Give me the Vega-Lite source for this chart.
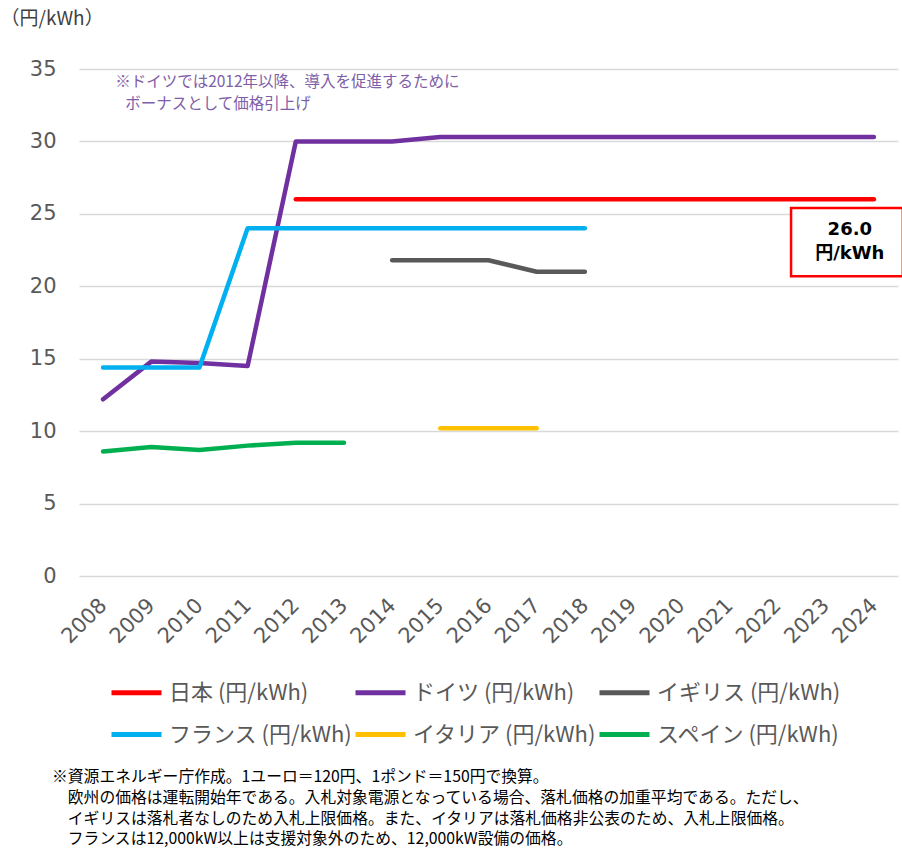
{
  "$schema": "https://vega.github.io/schema/vega-lite/v6.json",
  "width": 819,
  "height": 507,
  "autosize": {"type": "none"},
  "padding": {"left": 79, "top": 69, "right": 4, "bottom": 273},
  "background": "white",
  "config": {
    "view": {"stroke": null},
    "font": "Noto Sans CJK JP"
  },
  "title": {
    "text": [
      "※資源エネルギー庁作成。1ユーロ＝120円、1ポンド＝150円で換算。",
      "\u200b\u3000欧州の価格は運転開始年である。入札対象電源となっている場合、落札価格の加重平均である。ただし、",
      "\u200b\u3000イギリスは落札者なしのため入札上限価格。また、イタリアは落札価格非公表のため、入札上限価格。",
      "\u200b\u3000フランスは12,000kW以上は支援対象外のため、12,000kW設備の価格。"
    ],
    "orient": "bottom",
    "anchor": "start",
    "frame": "group",
    "font": "Noto Sans CJK JP",
    "fontSize": 15.8,
    "fontWeight": "normal",
    "color": "#000000",
    "lineHeight": 20.8,
    "dx": -27,
    "offset": 24
  },
  "datasets": {
    "prices": [
      {"series": "日本 (円/kWh)", "year": 2012, "value": 26.0},
      {"series": "日本 (円/kWh)", "year": 2013, "value": 26.0},
      {"series": "日本 (円/kWh)", "year": 2014, "value": 26.0},
      {"series": "日本 (円/kWh)", "year": 2015, "value": 26.0},
      {"series": "日本 (円/kWh)", "year": 2016, "value": 26.0},
      {"series": "日本 (円/kWh)", "year": 2017, "value": 26.0},
      {"series": "日本 (円/kWh)", "year": 2018, "value": 26.0},
      {"series": "日本 (円/kWh)", "year": 2019, "value": 26.0},
      {"series": "日本 (円/kWh)", "year": 2020, "value": 26.0},
      {"series": "日本 (円/kWh)", "year": 2021, "value": 26.0},
      {"series": "日本 (円/kWh)", "year": 2022, "value": 26.0},
      {"series": "日本 (円/kWh)", "year": 2023, "value": 26.0},
      {"series": "日本 (円/kWh)", "year": 2024, "value": 26.0},
      {"series": "ドイツ (円/kWh)", "year": 2008, "value": 12.2},
      {"series": "ドイツ (円/kWh)", "year": 2009, "value": 14.8},
      {"series": "ドイツ (円/kWh)", "year": 2010, "value": 14.7},
      {"series": "ドイツ (円/kWh)", "year": 2011, "value": 14.5},
      {"series": "ドイツ (円/kWh)", "year": 2012, "value": 30.0},
      {"series": "ドイツ (円/kWh)", "year": 2013, "value": 30.0},
      {"series": "ドイツ (円/kWh)", "year": 2014, "value": 30.0},
      {"series": "ドイツ (円/kWh)", "year": 2015, "value": 30.3},
      {"series": "ドイツ (円/kWh)", "year": 2016, "value": 30.3},
      {"series": "ドイツ (円/kWh)", "year": 2017, "value": 30.3},
      {"series": "ドイツ (円/kWh)", "year": 2018, "value": 30.3},
      {"series": "ドイツ (円/kWh)", "year": 2019, "value": 30.3},
      {"series": "ドイツ (円/kWh)", "year": 2020, "value": 30.3},
      {"series": "ドイツ (円/kWh)", "year": 2021, "value": 30.3},
      {"series": "ドイツ (円/kWh)", "year": 2022, "value": 30.3},
      {"series": "ドイツ (円/kWh)", "year": 2023, "value": 30.3},
      {"series": "ドイツ (円/kWh)", "year": 2024, "value": 30.3},
      {"series": "イギリス (円/kWh)", "year": 2014, "value": 21.8},
      {"series": "イギリス (円/kWh)", "year": 2015, "value": 21.8},
      {"series": "イギリス (円/kWh)", "year": 2016, "value": 21.8},
      {"series": "イギリス (円/kWh)", "year": 2017, "value": 21.0},
      {"series": "イギリス (円/kWh)", "year": 2018, "value": 21.0},
      {"series": "フランス (円/kWh)", "year": 2008, "value": 14.4},
      {"series": "フランス (円/kWh)", "year": 2009, "value": 14.4},
      {"series": "フランス (円/kWh)", "year": 2010, "value": 14.4},
      {"series": "フランス (円/kWh)", "year": 2011, "value": 24.0},
      {"series": "フランス (円/kWh)", "year": 2012, "value": 24.0},
      {"series": "フランス (円/kWh)", "year": 2013, "value": 24.0},
      {"series": "フランス (円/kWh)", "year": 2014, "value": 24.0},
      {"series": "フランス (円/kWh)", "year": 2015, "value": 24.0},
      {"series": "フランス (円/kWh)", "year": 2016, "value": 24.0},
      {"series": "フランス (円/kWh)", "year": 2017, "value": 24.0},
      {"series": "フランス (円/kWh)", "year": 2018, "value": 24.0},
      {"series": "イタリア (円/kWh)", "year": 2015, "value": 10.2},
      {"series": "イタリア (円/kWh)", "year": 2016, "value": 10.2},
      {"series": "イタリア (円/kWh)", "year": 2017, "value": 10.2},
      {"series": "スペイン (円/kWh)", "year": 2008, "value": 8.6},
      {"series": "スペイン (円/kWh)", "year": 2009, "value": 8.9},
      {"series": "スペイン (円/kWh)", "year": 2010, "value": 8.7},
      {"series": "スペイン (円/kWh)", "year": 2011, "value": 9.0},
      {"series": "スペイン (円/kWh)", "year": 2012, "value": 9.2},
      {"series": "スペイン (円/kWh)", "year": 2013, "value": 9.2}
    ],
    "notes": [
      {"year": 2008.25, "value": 34.1, "note": "※ドイツでは2012年以降、導入を促進するために"},
      {"year": 2008.46, "value": 32.6, "note": "ボーナスとして価格引上げ"}
    ],
    "callout": [
      {"x0": 2022.28, "x1": 2024.6, "y0": 20.7, "y1": 25.4}
    ],
    "japan_latest": [
      {"series": "日本 (円/kWh)", "year": 2024, "value": 26.0}
    ]
  },
  "layer": [
    {
      "data": {"name": "prices"},
      "mark": {"type": "line", "strokeWidth": 4.5, "strokeCap": "round", "strokeJoin": "round"},
      "encoding": {
        "x": {
          "field": "year",
          "type": "quantitative",
          "title": null,
          "scale": {"domain": [2007.5, 2024.5], "nice": false, "zero": false},
          "axis": {
            "values": [2008, 2009, 2010, 2011, 2012, 2013, 2014, 2015, 2016, 2017, 2018, 2019, 2020, 2021, 2022, 2023, 2024],
            "format": "d",
            "grid": false,
            "domain": false,
            "ticks": false,
            "labelAngle": -45,
            "labelAlign": "right",
            "labelBaseline": "middle",
            "labelPadding": 26,
            "labelFont": "DejaVu Sans",
            "labelFontSize": 21,
            "labelColor": "#595959",
            "labelOverlap": false,
            "labelBound": false,
            "labelFlush": false
          }
        },
        "y": {
          "field": "value",
          "type": "quantitative",
          "title": "（円/kWh）",
          "scale": {"domain": [0, 35], "nice": false},
          "axis": {
            "values": [0, 5, 10, 15, 20, 25, 30, 35],
            "grid": true,
            "gridColor": "#D9D9D9",
            "gridWidth": 1.5,
            "domain": false,
            "ticks": false,
            "labelPadding": 23,
            "labelFont": "DejaVu Sans",
            "labelFontSize": 21,
            "labelColor": "#595959",
            "titleAngle": 0,
            "titleAlign": "left",
            "titleBaseline": "middle",
            "titleX": -79,
            "titleY": -51,
            "titleFont": "Noto Sans CJK JP",
            "titleFontSize": 19,
            "titleFontWeight": "normal",
            "titleColor": "#404040"
          }
        },
        "color": {
          "field": "series",
          "type": "nominal",
          "sort": null,
          "scale": {
            "domain": ["日本 (円/kWh)", "ドイツ (円/kWh)", "イギリス (円/kWh)", "フランス (円/kWh)", "イタリア (円/kWh)", "スペイン (円/kWh)"],
            "range": ["#FF0000", "#7030A0", "#595959", "#00B0F0", "#FFC000", "#00B050"]
          },
          "legend": {
            "orient": "none",
            "legendX": 30,
            "legendY": 596,
            "direction": "horizontal",
            "columns": 3,
            "gridAlign": "all",
            "title": null,
            "symbolType": "stroke",
            "symbolSize": 2500,
            "symbolStrokeWidth": 5,
            "labelFont": "Noto Sans CJK JP",
            "labelFontSize": 22,
            "labelColor": "#595959",
            "labelOffset": 5,
            "labelLimit": 300,
            "columnPadding": -20,
            "rowPadding": 3
          }
        }
      }
    },
    {
      "data": {"name": "notes"},
      "mark": {"type": "text", "align": "left", "baseline": "middle", "font": "Noto Sans CJK JP", "fontSize": 15.5, "color": "#7E60A8"},
      "encoding": {
        "x": {"field": "year", "type": "quantitative", "title": null},
        "y": {"field": "value", "type": "quantitative", "title": "（円/kWh）"},
        "text": {"field": "note"}
      }
    },
    {
      "data": {"name": "callout"},
      "mark": {"type": "rect", "fill": "white", "stroke": "#FF0000", "strokeWidth": 2.5, "clip": false},
      "encoding": {
        "x": {"field": "x0", "type": "quantitative", "title": null},
        "x2": {"field": "x1"},
        "y": {"field": "y0", "type": "quantitative", "title": "（円/kWh）"},
        "y2": {"field": "y1"}
      }
    },
    {
      "data": {"name": "japan_latest"},
      "mark": {"type": "text", "align": "center", "baseline": "middle", "font": "DejaVu Sans", "fontSize": 18, "fontWeight": "bold", "color": "#000000"},
      "encoding": {
        "x": {"datum": 2023.5, "type": "quantitative", "title": null},
        "y": {"datum": 23.9, "type": "quantitative", "title": "（円/kWh）"},
        "text": {"field": "value", "type": "quantitative", "format": ".1f"}
      }
    },
    {
      "data": {"name": "japan_latest"},
      "mark": {"type": "text", "align": "center", "baseline": "middle", "font": "DejaVu Sans, Noto Sans CJK JP", "fontSize": 18, "fontWeight": "bold", "color": "#000000", "text": "円/kWh"},
      "encoding": {
        "x": {"datum": 2023.5, "type": "quantitative", "title": null},
        "y": {"datum": 22.2, "type": "quantitative", "title": "（円/kWh）"}
      }
    }
  ]
}
